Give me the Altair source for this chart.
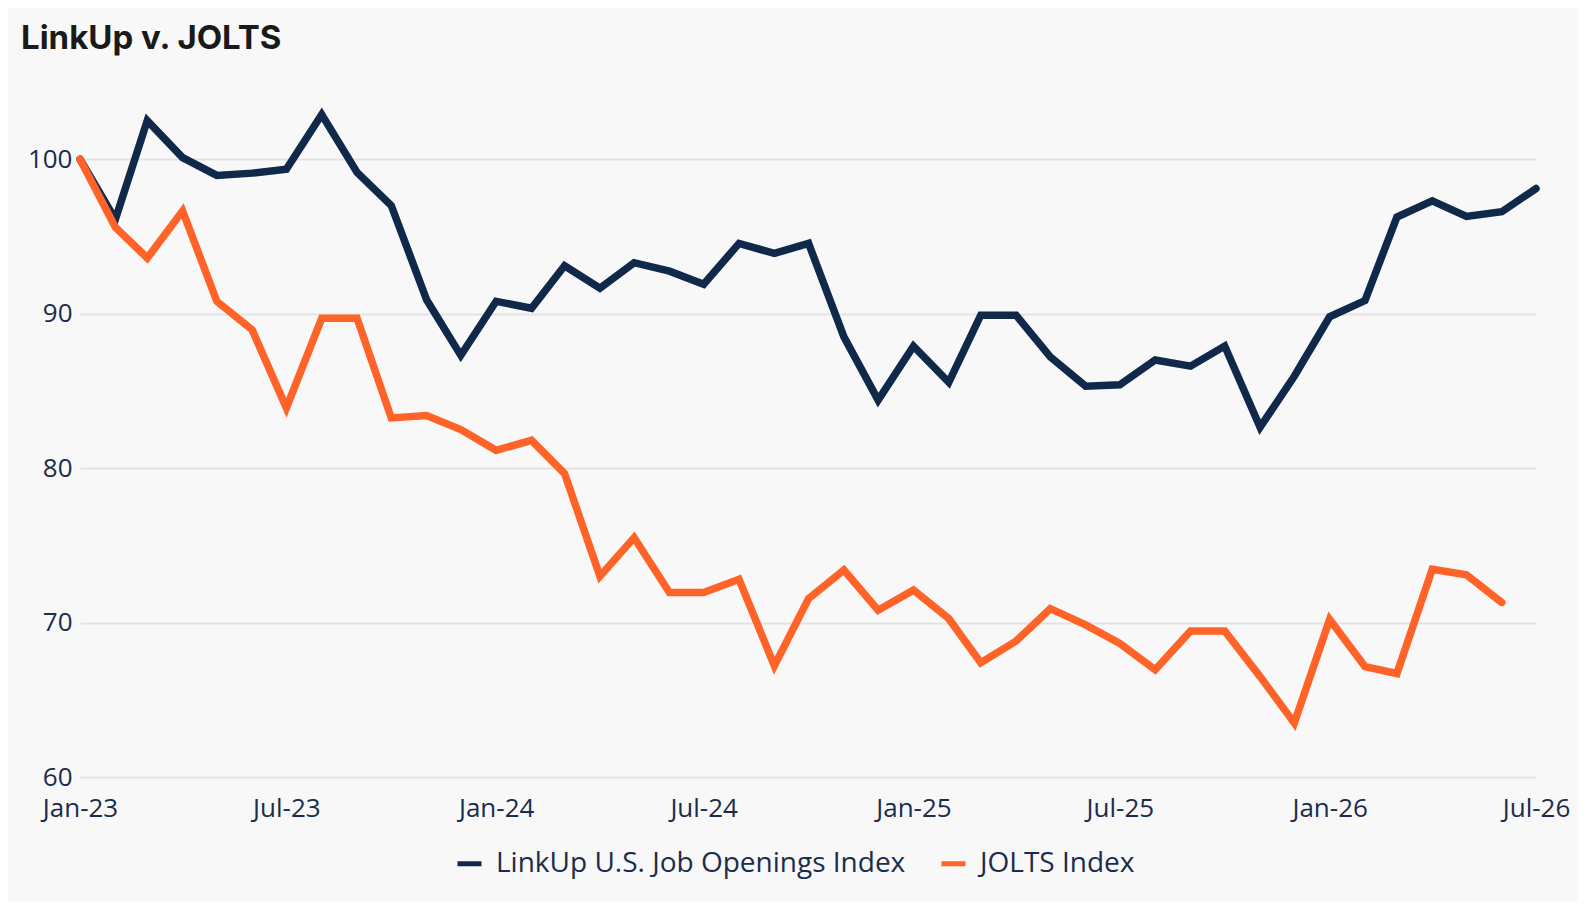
import altair as alt
import pandas as pd

months = [
    "2023-01-01", "2023-02-01", "2023-03-01", "2023-04-01", "2023-05-01", "2023-06-01",
    "2023-07-01", "2023-08-01", "2023-09-01", "2023-10-01", "2023-11-01", "2023-12-01",
    "2024-01-01", "2024-02-01", "2024-03-01", "2024-04-01", "2024-05-01", "2024-06-01",
    "2024-07-01", "2024-08-01", "2024-09-01", "2024-10-01", "2024-11-01", "2024-12-01",
    "2025-01-01", "2025-02-01", "2025-03-01", "2025-04-01", "2025-05-01", "2025-06-01",
    "2025-07-01", "2025-08-01", "2025-09-01", "2025-10-01", "2025-11-01", "2025-12-01",
    "2026-01-01", "2026-02-01", "2026-03-01", "2026-04-01", "2026-05-01", "2026-06-01",
    "2026-07-01",
]

linkup = [
    100.0, 96.1, 102.5, 100.1, 98.95, 99.1,
    99.35, 102.9, 99.15, 97.0, 90.9, 87.3,
    90.8, 90.35, 93.1, 91.65, 93.3, 92.75,
    91.9, 94.55, 93.9, 94.55, 88.5, 84.4,
    87.9, 85.55, 89.9, 89.9, 87.2, 85.3,
    85.4, 87.0, 86.6, 87.9, 82.65, 85.95,
    89.8, 90.85, 96.25, 97.3, 96.3, 96.6,
    98.1,
]

jolts = [
    100.0, 95.6, 93.6, 96.65, 90.8, 88.95,
    83.9, 89.7, 89.7, 83.25, 83.4, 82.5,
    81.15, 81.8, 79.65, 73.0, 75.5, 71.95,
    71.95, 72.8, 67.2, 71.55, 73.4, 70.8,
    72.1, 70.25, 67.4, 68.8, 70.9, 69.85,
    68.65, 66.95, 69.45, 69.45, 66.5, 63.5,
    70.2, 67.15, 66.7, 73.45, 73.1, 71.3,
]

series_names = ["LinkUp U.S. Job Openings Index", "JOLTS Index"]
series_colors = ["#10294b", "#ff6328"]
y_ticks = [60, 70, 80, 90, 100]
x_tick_years = [2023, 2023, 2024, 2024, 2025, 2025, 2026, 2026]
x_tick_months = [1, 7, 1, 7, 1, 7, 1, 7]

df_linkup = pd.DataFrame({"date": months, "value": linkup, "series": series_names[0]})
df_jolts = pd.DataFrame({"date": months[:len(jolts)], "value": jolts, "series": series_names[1]})

TEXT = "#1b2c4c"

x_enc = alt.X(
    "date:T",
    scale=alt.Scale(
        type="utc",
        domain=[alt.DateTime(year=2023, month=1, date=1, utc=True),
                alt.DateTime(year=2026, month=7, date=1, utc=True)],
    ),
    axis=alt.Axis(
        values=[alt.DateTime(year=y, month=m, date=1, utc=True)
                for y, m in zip(x_tick_years, x_tick_months)],
        format="%b-%y",
        title=None,
        grid=False,
        domain=False,
        ticks=False,
        tickSize=0,
        labelPadding=18,
        labelFont="Open Sans",
        labelFontSize=26,
        labelColor=TEXT,
        labelOverlap=False,
        labelFlush=False,
    ),
)
y_enc = alt.Y(
    "value:Q",
    scale=alt.Scale(domain=[60, 105], nice=False, zero=False),
    axis=alt.Axis(
        values=y_ticks,
        title=None,
        grid=True,
        gridColor="#e3e3e3",
        gridWidth=2,
        domain=False,
        ticks=False,
        tickSize=0,
        labelPadding=8,
        labelFont="Open Sans",
        labelFontSize=26,
        labelColor=TEXT,
    ),
)
color_enc = alt.Color(
    "series:N",
    scale=alt.Scale(domain=series_names, range=series_colors),
    legend=alt.Legend(
        title=None,
        orient="none",
        legendX=375,
        legendY=767,
        direction="horizontal",
        symbolType="stroke",
        symbolSize=576,
        symbolStrokeWidth=5,
        labelOffset=12,
        columnPadding=25,
        labelFont="Open Sans",
        labelFontSize=28,
        labelColor=TEXT,
        labelLimit=0,
        padding=0,
    ),
)

def line(df):
    return alt.Chart(df).mark_line(strokeWidth=7.5, strokeCap="round", strokeJoin="miter").encode(
        x=x_enc, y=y_enc, color=color_enc
    )

chart = alt.layer(line(df_linkup), line(df_jolts)).properties(
    width=1456,
    height=695,
    autosize=alt.AutoSizeParams(type="none"),
    padding={"left": 72, "top": 74, "right": 42, "bottom": 125},
    background="#f8f8f8",
    title=alt.TitleParams(
        text="LinkUp v. JOLTS",
        anchor="start",
        frame="group",
        dx=-59,
        offset=0,
        baseline="alphabetic",
        font="Inter",
        fontSize=33,
        fontWeight=700,
        color="#1a1a1a",
    ),
).configure_view(stroke=None)

chart.save("out.html", embed_options={"renderer": "svg", "actions": False})
